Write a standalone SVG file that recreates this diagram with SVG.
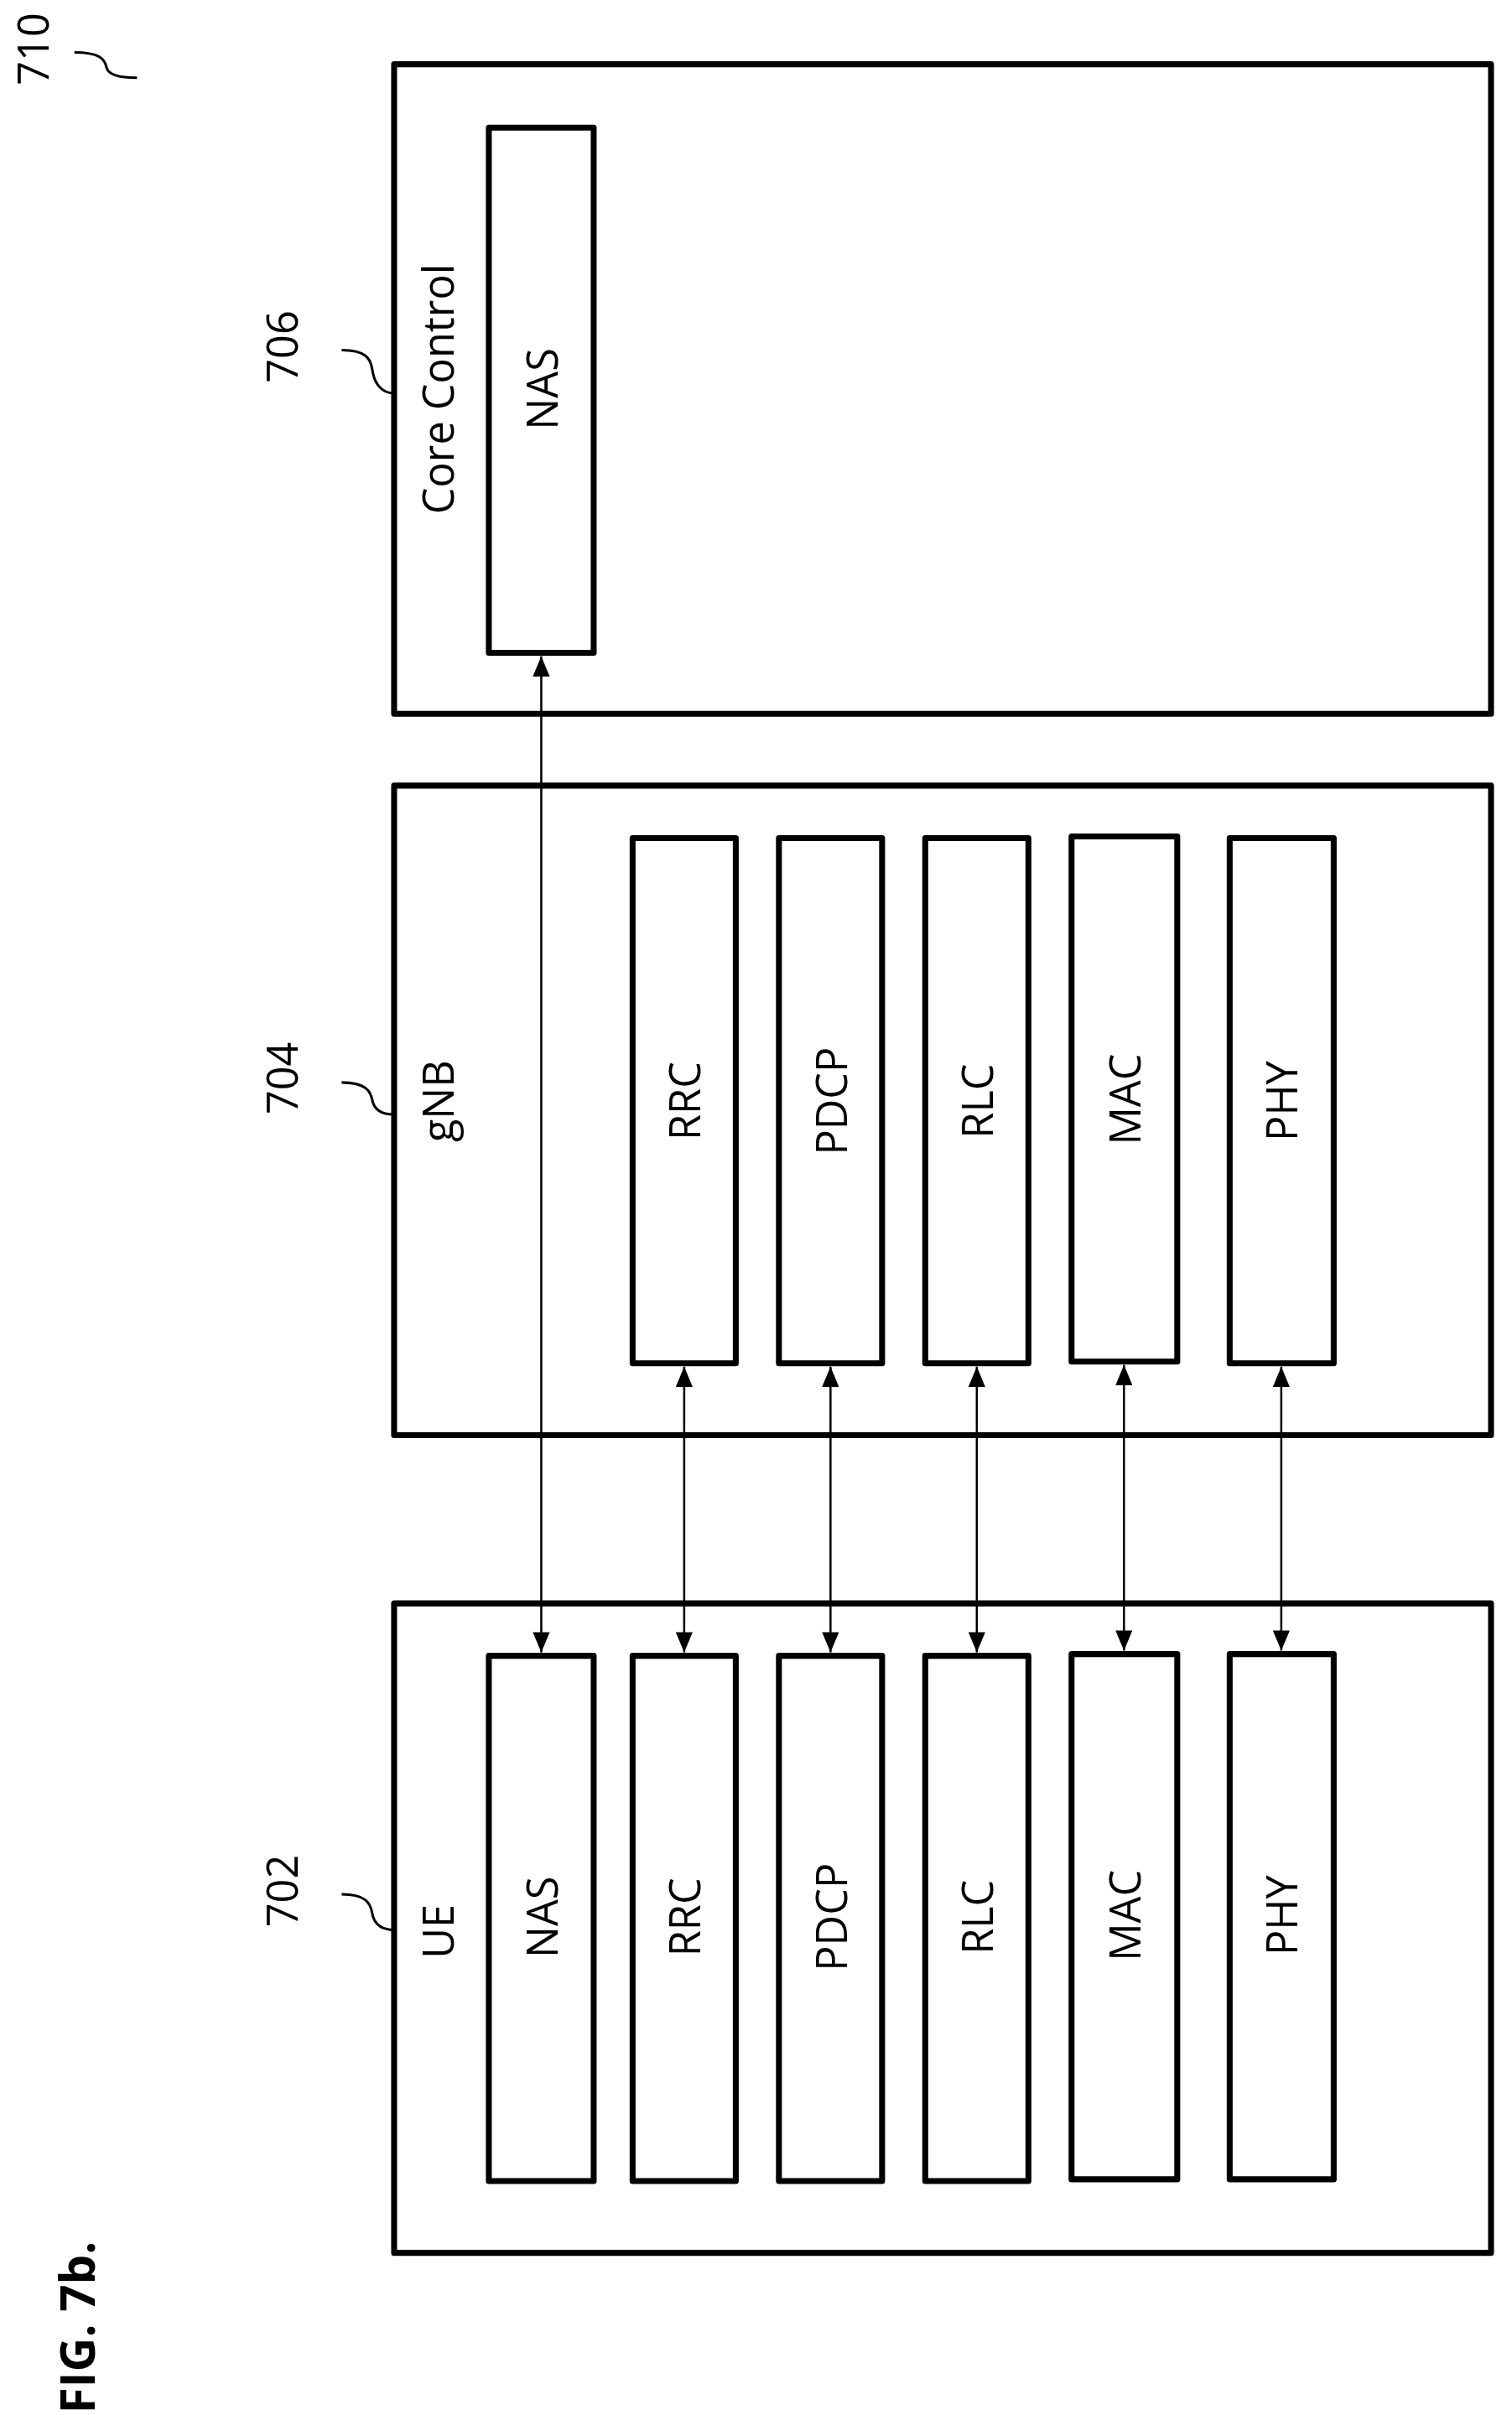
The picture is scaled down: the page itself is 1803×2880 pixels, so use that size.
<svg xmlns="http://www.w3.org/2000/svg" width="1803" height="2880" viewBox="0 0 1803 2880">
<style>
.b{fill:none;stroke:#000;stroke-width:7;stroke-linejoin:round}
.t{font-family:"Open Sans","Liberation Sans",sans-serif;font-size:50px;text-anchor:middle;dominant-baseline:central}
.c{fill:none;stroke:#000;stroke-width:3}
.a{fill:none;stroke:#000;stroke-width:2.5;marker-start:url(#h);marker-end:url(#h)}
</style>
<defs><marker id="h" viewBox="0 0 10 10" refX="10" refY="5" markerWidth="24" markerHeight="20" markerUnits="userSpaceOnUse" orient="auto-start-reverse" preserveAspectRatio="none"><path d="M0,0L10,5L0,10z"/></marker></defs>
<g transform="scale(1.0085)">
<g id="fig"><text class="t" style="font-weight:bold;font-size:56px" transform="translate(91,2752) rotate(-90)">FIG. 7b.</text></g>
<g id="r710"><text class="t" transform="translate(38,58) rotate(-90)">710</text><path class="c" d="M88,62C118,62 124,70 126,80C128,88 140,92 162,92"/></g>
<g id="core">
<rect class="b" x="466" y="76" width="1297" height="768"/>
<text class="t" transform="translate(517,460) rotate(-90)">Core Control</text>
<text class="t" transform="translate(333,410) rotate(-90)">706</text>
<path class="c" d="M404,414C432,414 438,424 440,436C442,452 450,465 466,465"/>
<g id="core-nas"><rect class="b" x="578" y="151" width="124" height="621"/><text class="t" transform="translate(640,460) rotate(-90)">NAS</text></g>
</g>
<g id="gnb">
<rect class="b" x="466" y="929" width="1297" height="768"/>
<text class="t" transform="translate(517,1302) rotate(-90)">gNB</text>
<text class="t" transform="translate(333,1275) rotate(-90)">704</text>
<path class="c" d="M404,1280C432,1280 438,1290 440,1300C442,1312 450,1318 466,1318"/>
<g id="g-rrc"><rect class="b" x="748" y="991" width="122" height="621"/><text class="t" transform="translate(809,1302) rotate(-90)">RRC</text></g>
<g id="g-pdcp"><rect class="b" x="921" y="991" width="122" height="621"/><text class="t" transform="translate(982,1302) rotate(-90)">PDCP</text></g>
<g id="g-rlc"><rect class="b" x="1094" y="991" width="122" height="621"/><text class="t" transform="translate(1155,1302) rotate(-90)">RLC</text></g>
<g id="g-mac"><rect class="b" x="1267" y="989" width="125" height="621"/><text class="t" transform="translate(1329,1300) rotate(-90)">MAC</text></g>
<g id="g-phy"><rect class="b" x="1454" y="991" width="123" height="621"/><text class="t" transform="translate(1515,1302) rotate(-90)">PHY</text></g>
</g>
<g id="ue">
<rect class="b" x="466" y="1896" width="1297" height="768"/>
<text class="t" transform="translate(517,2284) rotate(-90)">UE</text>
<text class="t" transform="translate(333,2236) rotate(-90)">702</text>
<path class="c" d="M404,2240C432,2240 438,2250 440,2262C442,2274 450,2282 466,2282"/>
<g id="u-nas"><rect class="b" x="578" y="1958" width="124" height="621"/><text class="t" transform="translate(640,2267) rotate(-90)">NAS</text></g>
<g id="u-rrc"><rect class="b" x="748" y="1958" width="122" height="621"/><text class="t" transform="translate(809,2267) rotate(-90)">RRC</text></g>
<g id="u-pdcp"><rect class="b" x="921" y="1958" width="122" height="621"/><text class="t" transform="translate(982,2267) rotate(-90)">PDCP</text></g>
<g id="u-rlc"><rect class="b" x="1094" y="1958" width="122" height="621"/><text class="t" transform="translate(1155,2267) rotate(-90)">RLC</text></g>
<g id="u-mac"><rect class="b" x="1267" y="1956" width="125" height="621"/><text class="t" transform="translate(1329,2265) rotate(-90)">MAC</text></g>
<g id="u-phy"><rect class="b" x="1454" y="1956" width="123" height="621"/><text class="t" transform="translate(1515,2265) rotate(-90)">PHY</text></g>
</g>
<g id="connectors">
<line class="a" x1="640" y1="776" x2="640" y2="1954"/>
<line class="a" x1="809" y1="1616" x2="809" y2="1954"/>
<line class="a" x1="982" y1="1616" x2="982" y2="1954"/>
<line class="a" x1="1155" y1="1616" x2="1155" y2="1954"/>
<line class="a" x1="1329" y1="1614" x2="1329" y2="1952"/>
<line class="a" x1="1515" y1="1616" x2="1515" y2="1952"/>
</g>
</g>
</svg>
